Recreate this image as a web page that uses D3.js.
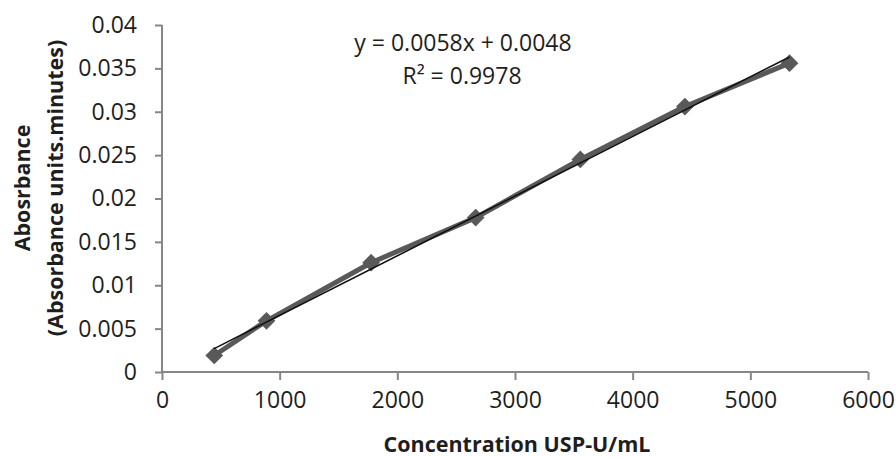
<!DOCTYPE html>
<html>
<head>
<meta charset="utf-8">
<script src="https://cdn.jsdelivr.net/npm/d3@7"></script>
<style>
  html, body { margin: 0; padding: 0; background: #ffffff; }
  svg { display: block; }
  text { font-family: "Open Sans", "Liberation Sans", sans-serif; fill: #1e1e1e; }
</style>
</head>
<body>
<svg id="chart" width="896" height="457"></svg>
<script>
// Standard curve: activity concentration vs absorbance rate
const concentration = [444, 888, 1777, 2666, 3555, 4444, 5333];
const absorbance = [0.0019, 0.0059, 0.0126, 0.0178, 0.0245, 0.0306, 0.0356];

const xTicks = [0, 1000, 2000, 3000, 4000, 5000, 6000];
const yTicks = [0, 0.005, 0.01, 0.015, 0.02, 0.025, 0.03, 0.035, 0.04];

const equationLabel = "y = 0.0058x + 0.0048";
const r2Label = "R² = 0.9978";
const xTitle = "Concentration USP-U/mL";
const yTitleLines = ["Abosrbance", "(Absorbance units.minutes)"];

const W = 896, H = 457;
const margin = { left: 162, right: 28, top: 25, bottom: 85 };

const svg = d3.select("#chart");

const x = d3.scaleLinear().domain([0, 6000]).range([margin.left, W - margin.right]);
const y = d3.scaleLinear().domain([0, 0.04]).range([H - margin.bottom, margin.top]);

const axisColor = "#868686";

// Y axis
const yAxis = svg.append("g")
  .attr("transform", `translate(${margin.left},0)`)
  .call(d3.axisLeft(y).tickValues(yTicks).tickSize(7).tickPadding(18)
    .tickFormat(d => d === 0 ? "0" : String(+d.toFixed(3))));
// X axis
const xAxis = svg.append("g")
  .attr("transform", `translate(0,${H - margin.bottom})`)
  .call(d3.axisBottom(x).tickValues(xTicks).tickSize(8).tickPadding(12)
    .tickFormat(d3.format("d")));

[yAxis, xAxis].forEach(g => {
  g.select(".domain").attr("stroke", axisColor).attr("stroke-width", 2);
  g.selectAll(".tick line").attr("stroke", axisColor).attr("stroke-width", 2);
  g.selectAll(".tick text").attr("font-size", 23).attr("fill", "#1e1e1e")
    .attr("font-family", "'Open Sans', sans-serif");
});
// flatten D3's default outer tick caps so the domain is a plain line
yAxis.select(".domain").attr("d", `M0,${y(0)}V${y(0.04)}`);
xAxis.select(".domain").attr("d", `M${x(0)},0H${x(6000)}`);

// Data series line with diamond markers
const pts = concentration.map((c, i) => ({ c, a: absorbance[i] }));
const seriesColor = "#595959";

svg.append("path")
  .datum(pts)
  .attr("fill", "none")
  .attr("stroke", seriesColor)
  .attr("stroke-width", 5)
  .attr("stroke-linejoin", "round")
  .attr("d", d3.line().x(d => x(d.c)).y(d => y(d.a)));

const diamond = d3.symbol().type(d3.symbolDiamond2).size(200);
svg.append("g").selectAll("path")
  .data(pts)
  .join("path")
  .attr("transform", d => `translate(${x(d.c)},${y(d.a)})`)
  .attr("d", diamond)
  .attr("fill", seriesColor);

// Least-squares trendline through the data
const mx = d3.mean(concentration), my = d3.mean(absorbance);
const sxy = d3.sum(pts, d => (d.c - mx) * (d.a - my));
const sxx = d3.sum(pts, d => (d.c - mx) ** 2);
const slope = sxy / sxx, intercept = my - slope * mx;
const xs = d3.extent(concentration);

svg.append("line")
  .attr("x1", x(xs[0])).attr("y1", y(intercept + slope * xs[0]))
  .attr("x2", x(xs[1])).attr("y2", y(intercept + slope * xs[1]))
  .attr("stroke", "#111111")
  .attr("stroke-width", 1.6);

// Trendline equation
svg.append("text").attr("x", 463).attr("y", 51).attr("text-anchor", "middle")
  .attr("font-size", 23).text(equationLabel);
svg.append("text").attr("x", 462).attr("y", 84).attr("text-anchor", "middle")
  .attr("font-size", 23).text(r2Label);

// Axis titles
svg.append("text")
  .attr("x", (x(0) + x(6000)) / 2 + 2).attr("y", 452)
  .attr("text-anchor", "middle").attr("font-weight", "bold").attr("font-size", 21.5)
  .text(xTitle);

const yt = svg.append("text")
  .attr("transform", `translate(0,188) rotate(-90)`)
  .attr("text-anchor", "middle").attr("font-weight", "bold").attr("font-size", 21.5);
yt.append("tspan").attr("x", 0).attr("y", 30).text(yTitleLines[0]);
yt.append("tspan").attr("x", 0).attr("y", 63).text(yTitleLines[1]);
</script>
</body>
</html>
